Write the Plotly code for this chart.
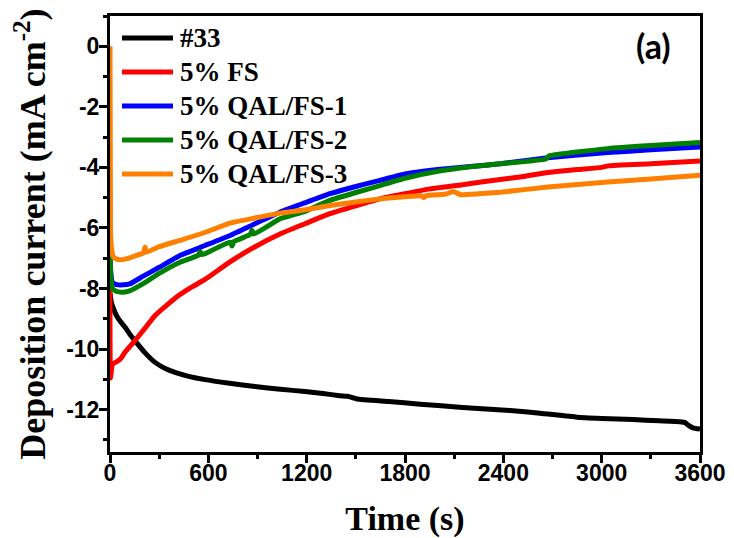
import plotly.graph_objects as go

# ---------------- data ----------------
series_names = ["#33", "5% FS", "5% QAL/FS-1", "5% QAL/FS-2", "5% QAL/FS-3"]
series_colors = ["#000000", "#FF0000", "#0000FF", "#008000", "#FF8000"]

t_33 = [0, 8, 20, 40, 65, 92, 120, 152, 210, 275, 340, 397, 480, 580, 730, 885,
        1040, 1190, 1300, 1403, 1450, 1507, 1700, 1892, 2150, 2441, 2624, 2849,
        3000, 3191, 3350, 3478, 3510, 3530, 3557, 3600]
i_33 = [-8.15, -8.45, -8.65, -8.9, -9.1, -9.28, -9.5, -9.72, -10.1, -10.44, -10.65,
        -10.77, -10.9, -11.01, -11.13, -11.24, -11.33, -11.40, -11.47, -11.54,
        -11.56, -11.65, -11.73, -11.82, -11.93, -12.03, -12.12, -12.25, -12.29,
        -12.33, -12.37, -12.40, -12.43, -12.52, -12.6, -12.64]

t_fs = [0, 3, 15, 40, 65, 92, 152, 215, 275, 340, 397, 500, 580, 732, 885, 1037,
        1190, 1342, 1500, 1647, 1800, 1953, 2150, 2380, 2502, 2672, 2850, 3000,
        3040, 3300, 3600]
i_fs = [-7.9, -10.95, -10.5, -10.42, -10.32, -10.1, -9.72, -9.3, -8.89, -8.58,
        -8.32, -7.95, -7.7, -7.12, -6.62, -6.2, -5.86, -5.53, -5.27, -5.04, -4.87,
        -4.71, -4.57, -4.4, -4.32, -4.17, -4.07, -4.0, -3.95, -3.88, -3.79]

t_q1 = [0, 5, 15, 40, 80, 120, 200, 300, 427, 580, 732, 885, 1037, 1190, 1342,
        1500, 1647, 1800, 2000, 2200, 2380, 2672, 3038, 3300, 3600]
i_q1 = [-6.96, -7.5, -7.8, -7.87, -7.88, -7.85, -7.6, -7.3, -6.91, -6.58, -6.25,
        -5.86, -5.48, -5.17, -4.87, -4.63, -4.43, -4.22, -4.07, -3.97, -3.88,
        -3.68, -3.51, -3.42, -3.33]

t_q2 = [0, 5, 15, 40, 80, 120, 200, 300, 427, 540, 550, 560, 580, 732, 744, 756,
        855, 866, 877, 1037, 1190, 1342, 1500, 1647, 1800, 2000, 2200, 2380, 2660,
        2680, 3038, 3300, 3600]
i_q2 = [-6.74, -7.6, -8.0, -8.1, -8.12, -8.08, -7.85, -7.5, -7.13, -6.9, -6.78,
        -6.88, -6.85, -6.47, -6.6, -6.45, -6.22, -6.08, -6.2, -5.70, -5.45, -5.09,
        -4.83, -4.6, -4.36, -4.13, -3.98, -3.88, -3.72, -3.62, -3.38, -3.28, -3.18]

t_q3 = [0, 3, 10, 20, 40, 60, 100, 150, 205, 214, 222, 300, 427, 580, 732, 885,
        1037, 1190, 1342, 1500, 1647, 1800, 1900, 1915, 1930, 1953, 2050, 2094,
        2140, 2250, 2380, 2672, 3038, 3300, 3600]
i_q3 = [0.0, -6.1, -6.7, -6.95, -7.03, -7.05, -7.02, -6.93, -6.82, -6.63, -6.8,
        -6.62, -6.41, -6.15, -5.84, -5.67, -5.51, -5.4, -5.26, -5.14, -5.04, -4.97,
        -4.94, -5.0, -4.93, -4.92, -4.88, -4.8, -4.9, -4.87, -4.82, -4.65, -4.48,
        -4.38, -4.26]

x_ticks = [0, 600, 1200, 1800, 2400, 3000, 3600]
x_ticktext = ["0", "600", "1200", "1800", "2400", "3000", "3600"]
y_ticks = [0, -2, -4, -6, -8, -10, -12]
y_ticktext = ["0", "-2", "-4", "-6", "-8", "-10", "-12"]

# ---------------- figure ----------------
xs = [t_33, t_fs, t_q1, t_q2, t_q3]
ys = [i_33, i_fs, i_q1, i_q2, i_q3]

fig = go.Figure()
for name, col, x, y in zip(series_names, series_colors, xs, ys):
    fig.add_trace(go.Scatter(x=x, y=y, mode="lines", name=name, showlegend=False,
                             line=dict(color=col, width=5, shape="spline", smoothing=0.4)))

serif = "Liberation Serif, Times New Roman, serif"
sans = "Liberation Sans, Arial, sans-serif"

axis_common = dict(showline=True, linecolor="black", linewidth=3, mirror=True,
                   ticks="outside", ticklen=8, tickwidth=2.5, tickcolor="black",
                   showgrid=False, zeroline=False, automargin=False,
                   tickfont=dict(family=sans, size=23, color="black", weight="bold"))

fig.update_xaxes(range=[0, 3600], tickvals=x_ticks, ticktext=x_ticktext,
                 ticklabelstandoff=-10,
                 minor=dict(dtick=300, ticks="outside", ticklen=4, tickwidth=2.5,
                            tickcolor="black", showgrid=False),
                 title=dict(text="<b>Time (s)</b>", standoff=27,
                            font=dict(family=serif, size=34, color="black")),
                 **axis_common)
fig.update_yaxes(range=[-13.4, 1.0], tickvals=y_ticks, ticktext=y_ticktext,
                 ticklabelstandoff=-5,
                 minor=dict(dtick=1, ticks="outside", ticklen=4, tickwidth=2.5,
                            tickcolor="black", showgrid=False),
                 title=dict(text="<b>Deposition current (mA cm<sup>-2</sup>)</b>", standoff=17,
                            font=dict(family=serif, size=36, color="black")),
                 **axis_common)

# legend drawn as line samples + labels (tight row spacing like the original)
plot_w, plot_h = 590.0, 436.0
leg_x0, leg_x1, leg_tx = 12.0, 63.0, 68.0      # px from left edge of plot area
leg_top, leg_step = 22.0, 34.0                 # px from top edge of plot area
for k, (name, col) in enumerate(zip(series_names, series_colors)):
    yp = 1.0 - (leg_top + k * leg_step) / plot_h
    fig.add_shape(type="line", xref="paper", yref="paper",
                  x0=leg_x0 / plot_w, x1=leg_x1 / plot_w, y0=yp, y1=yp,
                  line=dict(color=col, width=5))
    fig.add_annotation(x=leg_tx / plot_w, y=yp, xref="paper", yref="paper",
                       text="<b>%s</b>" % name, showarrow=False,
                       xanchor="left", yanchor="middle",
                       font=dict(family=serif, size=27, color="black"))

fig.add_annotation(x=0.954, y=0.932, xref="paper", yref="paper", text="<b>(a)</b>",
                   showarrow=False, xanchor="right", yanchor="middle",
                   font=dict(family="Lato, sans-serif", size=34, color="black"))

# the page body adds an 8px offset, so the figure is sized to fit the 734x538 window
fig.update_layout(width=726, height=530,
                  margin=dict(l=102, r=34, t=8, b=86),
                  plot_bgcolor="white", paper_bgcolor="white",
                  showlegend=False)

fig.write_html("out.html")
